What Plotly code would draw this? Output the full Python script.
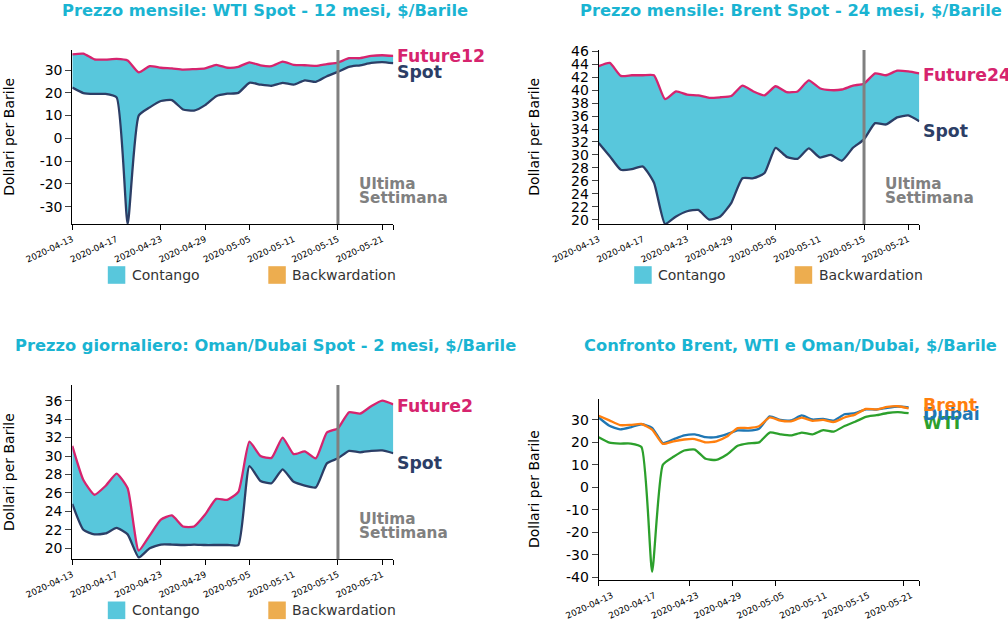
import plotly.graph_objects as go

W, H = 1008, 627

dates = ["2020-04-13","2020-04-14","2020-04-15","2020-04-16","2020-04-17","2020-04-20","2020-04-21","2020-04-22",
         "2020-04-23","2020-04-24","2020-04-27","2020-04-28","2020-04-29","2020-04-30","2020-05-01","2020-05-04",
         "2020-05-05","2020-05-06","2020-05-07","2020-05-08","2020-05-11","2020-05-12","2020-05-13","2020-05-14",
         "2020-05-15","2020-05-18","2020-05-19","2020-05-20","2020-05-21","2020-05-22"]
tick_labels = ["2020-04-13","2020-04-17","2020-04-23","2020-04-29","2020-05-05","2020-05-11","2020-05-15","2020-05-21"]
marked_ticks = ["2020-04-13","2020-04-23","2020-04-29","2020-05-05","2020-05-15","2020-05-21"]

wti_ticks = [30, 20, 10, 0, -10, -20, -30]
brent_ticks = [46, 44, 42, 40, 38, 36, 34, 32, 30, 28, 26, 24, 22, 20]
dubai_ticks = [36, 34, 32, 30, 28, 26, 24, 22, 20]
compare_ticks = [30, 20, 10, 0, -10, -20, -30, -40]

wti_spot = [22.3,19.9,19.5,19.5,18.0,-37.6,10.0,13.6,16.4,16.8,12.7,12.2,14.6,18.5,19.6,20.0,24.4,23.6,23.1,24.4,23.6,25.5,24.8,27.3,29.2,31.4,32.1,33.1,33.5,33.0]
wti_future12 = [36.9,37.2,34.7,34.6,34.9,34.2,29.0,31.7,31.0,30.7,30.2,30.4,30.7,32.3,31.0,31.4,33.4,32.1,31.7,33.7,32.3,32.1,31.8,32.6,33.3,35.2,35.2,36.2,36.5,36.2]
brent_spot = [31.85,29.8,27.7,27.8,28.2,25.7,19.33,20.5,21.3,21.5,20.0,20.5,22.6,26.4,26.4,27.2,31.1,29.7,29.4,31.0,29.6,30.0,29.1,31.1,32.4,34.9,34.7,35.8,36.1,35.2]
brent_future24 = [43.7,44.2,42.2,42.3,42.3,42.3,38.6,39.8,39.3,39.2,38.8,38.9,39.1,40.7,39.8,39.2,40.6,39.7,39.8,41.5,40.3,40.0,40.1,40.7,41.0,42.6,42.3,43.0,42.9,42.6]
dubai_spot = [24.8,22.0,21.5,21.6,22.2,21.5,19.0,20.0,20.4,20.4,20.35,20.4,20.35,20.35,20.35,20.35,28.9,27.3,27.05,28.55,27.2,26.8,26.6,29.2,29.75,30.55,30.4,30.55,30.6,30.3]
dubai_future2 = [31.1,27.4,25.8,26.75,28.1,26.5,19.75,21.4,23.1,23.55,22.35,22.35,23.65,25.35,25.25,26.1,31.55,30.0,29.8,32.0,30.2,30.5,29.75,32.55,33.0,34.75,34.6,35.4,36.0,35.6]

CONTANGO, BACKW = "#58c7dc", "#edad4f"
FUT, SPOT, GREY = "#d6246e", "#2c3e66", "#808080"
TITLE = "#1ab4d2"
FONT = "DejaVu Sans"
LW = 2.3

fig = go.Figure()

def px(x): return x / W
def py(y): return 1 - y / H

def note(text, x, y, size, color, bold=False, anchor="left", angle=0):
    fig.add_annotation(text=f"<b>{text}</b>" if bold else text, xref="paper", yref="paper",
                       x=px(x - 2.5 if anchor == "left" else x), y=py(y), xanchor=anchor, yanchor="middle",
                       showarrow=False, textangle=angle, font=dict(family=FONT, size=size, color=color))

def xaxis(x0, x1, anchor, rng, labels, marks, shift):
    return dict(domain=[px(x0), px(x1)], range=rng, anchor=anchor, tickmode="array",
                tickvals=labels, ticktext=tick_labels, tickangle=-25, ticks="", ticklabelstandoff=6,
                ticklabelshift=shift,
                minor=dict(tickmode="array", tickvals=marks, ticks="outside", ticklen=5, tickcolor="#000", tickwidth=1, showgrid=False),
                tickfont=dict(size=8.8, family=FONT, color="#000"), automargin=False,
                showgrid=False, zeroline=False, showline=True, linecolor="#000", linewidth=1)

def yaxis(y0, y1, anchor, rng, ticks):
    return dict(domain=[py(y1), py(y0)], range=rng, anchor=anchor, tickmode="array",
                tickvals=ticks, ticktext=[str(t) for t in ticks],
                tickfont=dict(size=14, family=FONT, color="#000"), ticks="outside", ticklen=6, automargin=False,
                showgrid=False, zeroline=False, showline=True, linecolor="#000", linewidth=1)

panels = [
    dict(n=1, box=(72.3, 393.3, 50, 224), rng=[-37.6, 38.8], yt=wti_ticks, title="Prezzo mensile: WTI Spot - 12 mesi, $/Barile", tx=264.7, ty=10,
         spot=wti_spot, fut=wti_future12, name="Future12", fy=56, sy=72, lx=9, ly=136.7),
    dict(n=2, box=(598.7, 919.3, 50, 224), rng=[19.33, 46.2], yt=brent_ticks, title="Prezzo mensile: Brent Spot - 24 mesi, $/Barile", tx=790.7, ty=10,
         spot=brent_spot, fut=brent_future24, name="Future24", fy=75, sy=131, lx=534, ly=136.7),
    dict(n=3, box=(72.3, 393.3, 385, 559.3), rng=[18.8, 37.7], yt=dubai_ticks, title="Prezzo giornaliero: Oman/Dubai Spot - 2 mesi, $/Barile", tx=265, ty=345,
         spot=dubai_spot, fut=dubai_future2, name="Future2", fy=406, sy=463, lx=9, ly=472),
]

tick_idx = [dates.index(d) for d in tick_labels]
mark_idx = [dates.index(d) for d in marked_ticks]
TS = 16.3

for p in panels:
    n = p["n"]
    x0, x1, y0, y1 = p["box"]
    s = "" if n == 1 else str(n)
    xa, ya = f"x{s}", f"y{s}"
    fig.add_trace(go.Scatter(x=list(range(30)), y=p["spot"], xaxis=xa, yaxis=ya, mode="lines", showlegend=False,
                             line=dict(color=SPOT, width=LW, shape="spline", smoothing=0.5)))
    fig.add_trace(go.Scatter(x=list(range(30)), y=p["fut"], xaxis=xa, yaxis=ya, mode="lines", showlegend=False,
                             fill="tonexty", fillcolor=CONTANGO,
                             line=dict(color=FUT, width=LW, shape="spline", smoothing=0.5)))
    fig.update_layout(**{
        f"xaxis{s}": xaxis(x0, x1, ya, [0, 29], tick_idx, mark_idx + [29], 0),
        f"yaxis{s}": yaxis(y0, y1, xa, p["rng"], p["yt"]),
    })
    fig.add_shape(type="line", xref=xa, yref=f"{ya} domain", x0=dates.index("2020-05-15"), x1=dates.index("2020-05-15"),
                  y0=0, y1=1, line=dict(color=GREY, width=3))
    note(p["title"], p["tx"], p["ty"], TS, TITLE, True, "center")
    note("Dollari per Barile", p["lx"], p["ly"], 14, "#000", False, "center", -90)
    note(p["name"], x1 + 4.5, p["fy"], 17.3, FUT, True)
    note("Spot", x1 + 4.5, p["sy"], 17.3, SPOT, True)
    note("Ultima", x0 + 287, y0 + 134, 15.3, GREY, True)
    note("Settimana", x0 + 287, y0 + 148, 15.3, GREY, True)
    ly = y1 + 51
    for off, col, lab in ((35.5, CONTANGO, "Contango"), (196, BACKW, "Backwardation")):
        fig.add_shape(type="rect", xref="paper", yref="paper", x0=px(x0 + off), x1=px(x0 + off + 17.5),
                      y0=py(ly + 8.8), y1=py(ly - 8.8), fillcolor=col, line=dict(width=0))
        note(lab, x0 + off + 24.5, ly, 14, "#333333")

# Confronto panel
x0, x1, y0, y1 = 598.7, 919.3, 399.3, 580.3
for name, vals, col in (("WTI", wti_spot, "#2ca02c"), ("Dubai", dubai_future2, "#1f77b4"), ("Brent", brent_spot, "#ff7f0e")):
    fig.add_trace(go.Scatter(x=list(range(30)), y=vals, xaxis="x4", yaxis="y4", mode="lines", showlegend=False,
                             line=dict(color=col, width=LW, shape="spline", smoothing=0.5)))
fig.update_layout(
    xaxis4=xaxis(x0, x1, "y4", [0, 30], [i + 0.5 for i in tick_idx], [0] + [i + 0.5 for i in mark_idx[1:]][:3] + [28.5, 30], 8),
    yaxis4=yaxis(y0, y1, "x4", [-41.4, 39.2], compare_ticks),
)
note("Confronto Brent, WTI e Oman/Dubai, $/Barile", 790.5, 345, TS, TITLE, True, "center")
note("Dollari per Barile", 534, 489, 14, "#000", False, "center", -90)
note("WTI", 923, 423, 17.3, "#2ca02c", True)
note("Dubai", 923, 414, 17.3, "#1f77b4", True)
note("Brent", 923, 405, 17.3, "#ff7f0e", True)

fig.update_layout(width=W, height=H, margin=dict(l=0, r=0, t=0, b=0, autoexpand=False), plot_bgcolor="#fff", paper_bgcolor="#fff",
                  font=dict(family=FONT), showlegend=False)
fig.write_html("out.html", config=dict(displayModeBar=False),
               post_script="document.body.style.margin='0';document.body.style.overflow='hidden';")
